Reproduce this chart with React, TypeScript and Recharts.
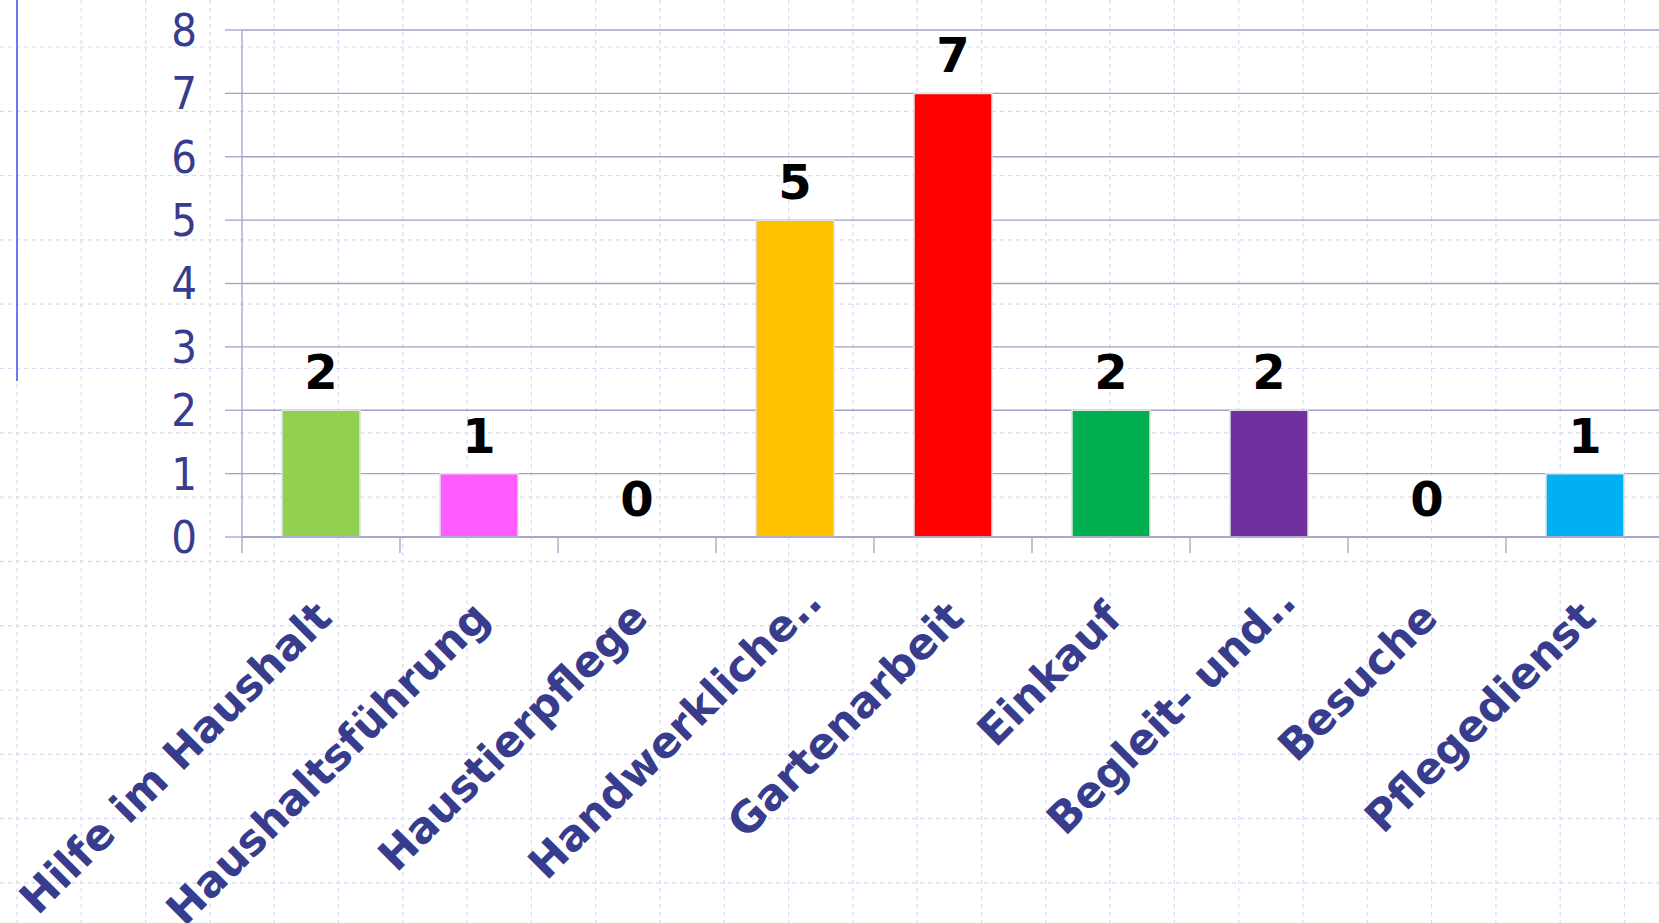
import React from 'react';
import { ComposedChart, Bar, Line, XAxis, YAxis, CartesianGrid, Cell, LabelList } from 'recharts';

const categories = [
  'Hilfe im Haushalt',
  'Haushaltsführung',
  'Haustierpflege',
  'Handwerkliche..',
  'Gartenarbeit',
  'Einkauf',
  'Begleit- und..',
  'Besuche',
  'Pflegedienst',
];
const values = [2, 1, 0, 5, 7, 2, 2, 0, 1];
const barColors = ['#92d050', '#ff5bff', '#ffc000', '#ffc000', '#ff0000', '#00b050', '#7030a0', '#7030a0', '#00b0f0'];
const yTicks = [0, 1, 2, 3, 4, 5, 6, 7, 8];

const data = categories.map((name, i) => ({ name, value: values[i] }));

const W = 1659;
const H = 923;
const AXIS_COLOR = '#a2a2c6';
const TEXT_COLOR = '#373c8c';

function XTick(props: any) {
  const { x, y, payload, index, visibleTicksCount, width } = props;
  const half = payload && typeof payload.offset === 'number' && payload.offset > 0
    ? payload.offset
    : width / visibleTicksCount / 2;
  const top = y - 16;
  const label = String(payload.value);
  const shift = label.endsWith('..') ? 16 : 0;
  const ax = x + 13 + shift;
  const ay = y + 67 - shift;
  return (
    <g>
      <line x1={x - half} x2={x - half} y1={top} y2={y} stroke={AXIS_COLOR} strokeWidth={1.3} />
      {index === visibleTicksCount - 1 ? (
        <line x1={x + half} x2={x + half} y1={top} y2={y} stroke={AXIS_COLOR} strokeWidth={1.3} />
      ) : null}
      <text
        x={ax}
        y={ay}
        transform={`rotate(-45, ${ax}, ${ay})`}
        textAnchor="end"
        fill={TEXT_COLOR}
        fontFamily="'DejaVu Sans', Verdana, sans-serif"
        fontWeight="bold"
        fontSize={43}
      >
        {label}
      </text>
    </g>
  );
}

function Background() {
  const vs: number[] = [];
  for (let x = 17; x < W; x += 64.3) vs.push(x);
  const hs: number[] = [];
  for (let y = 47 - 64.3; y < H; y += 64.3) if (y > 0) hs.push(y);
  return (
    <svg width={W} height={H} style={{ position: 'absolute', left: 0, top: 0 }}>
      <rect x={0} y={0} width={W} height={H} fill="#ffffff" />
      {vs.map((x, i) => (
        <line key={'v' + i} x1={x} x2={x} y1={0} y2={H} stroke="#d6daf4" strokeWidth={1.2} strokeDasharray="4 4" />
      ))}
      {hs.map((y, i) => (
        <line key={'h' + i} x1={0} x2={W} y1={y} y2={y} stroke="#d6daf4" strokeWidth={1.2} strokeDasharray="4 4" />
      ))}
      <line x1={17} x2={17} y1={0} y2={381} stroke="#5a6df0" strokeWidth={1.8} />
    </svg>
  );
}

export default function App() {
  return (
    <div style={{ position: 'absolute', left: 0, top: 0, width: W, height: H, overflow: 'hidden', background: '#fff' }}>
      <Background />
      <div style={{ position: 'absolute', left: 0, top: 0 }}>
        <ComposedChart
          width={1680}
          height={H}
          data={data}
          margin={{ top: 30, right: 16, left: 0, bottom: 0 }}
          barSize={78}
        >
          <CartesianGrid horizontal vertical={false} stroke={AXIS_COLOR} strokeWidth={1.3} />
          <XAxis
            dataKey="name"
            height={386}
            interval={0}
            tickLine={false}
            tickSize={16}
            tickMargin={0}
            axisLine={{ stroke: AXIS_COLOR, strokeWidth: 1.3 }}
            tick={<XTick />}
          />
          <YAxis
            width={242}
            domain={[0, 8]}
            ticks={yTicks}
            interval={0}
            tickSize={17}
            tickMargin={28}
            axisLine={{ stroke: AXIS_COLOR, strokeWidth: 1.3 }}
            tickLine={{ stroke: AXIS_COLOR, strokeWidth: 1.3 }}
            tick={{ fill: TEXT_COLOR, fontSize: 45, fontFamily: "'DejaVu Sans Condensed', 'DejaVu Sans', sans-serif" }}
          />
          <Bar dataKey="value" isAnimationActive={false} stroke="#e2e2e2" strokeWidth={1.5}>
            {data.map((d, i) => (
              <Cell key={d.name} fill={barColors[i]} />
            ))}
          </Bar>
          <Line
            dataKey="value"
            isAnimationActive={false}
            stroke="none"
            dot={false}
            activeDot={false}
            legendType="none"
          >
            <LabelList
              dataKey="value"
              position="top"
              offset={21}
              fill="#000000"
              fontSize={48}
              fontWeight="bold"
              fontFamily="'DejaVu Sans', Verdana, sans-serif"
            />
          </Line>
        </ComposedChart>
      </div>
    </div>
  );
}
